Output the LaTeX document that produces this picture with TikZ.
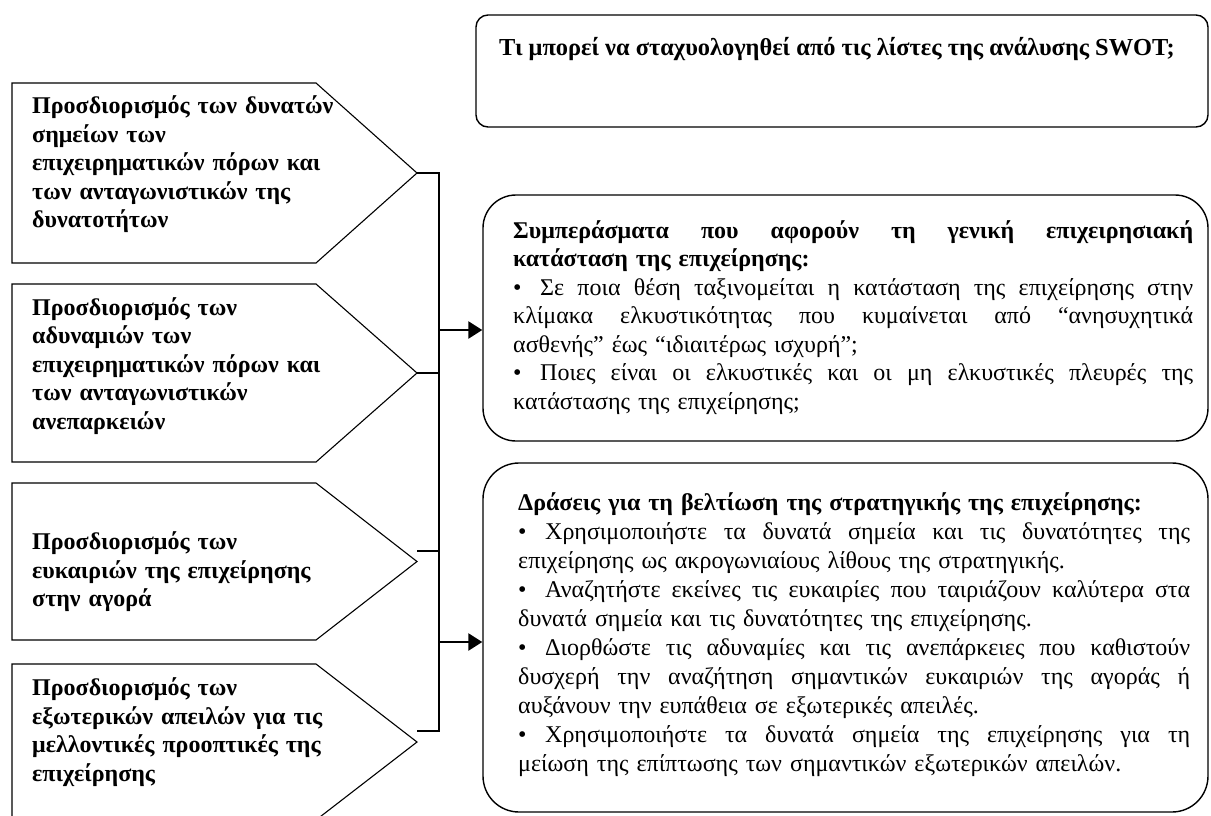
\documentclass[tikz,border=0pt]{standalone}
\usepackage{fontspec}
\setmainfont{Liberation Serif}
\usetikzlibrary{arrows.meta}
\newcommand{\jline}[2]{\leavevmode\hbox to #1{\spaceskip=0.25em plus 1fill\relax #2}}
\newcommand{\bul}{\makebox[27pt][l]{•}}
\begin{document}
\begin{tikzpicture}[x=1pt,y=-1pt,
  pent/.style={draw=black, line width=1.1pt, line join=miter},
  rbox/.style={draw=black, line width=1.4pt, inner sep=0pt, fill=none},
  conn/.style={draw=black, line width=1.3pt},
  arr/.style={draw=black, line width=2.6pt, -{Triangle[length=14pt,width=17pt]}},
  ltxt/.style={anchor=west, align=left, inner sep=0pt, text width=390pt,
    font=\fontsize{24}{28.5}\selectfont\bfseries},
  rtxt/.style={anchor=west, align=left, inner sep=0pt,
    font=\fontsize{24}{28.5}\selectfont},
  ]
\clip (0,0) rectangle (1211,815);
\fill[white] (0,0) rectangle (1211,815);

% left pentagons
\draw[pent] (12,83) -- (316,83) -- (417,173) -- (316,263) -- (12,263) -- cycle;
\draw[pent] (12,284) -- (316,284) -- (417,373) -- (316,462) -- (12,462) -- cycle;
\draw[pent] (12,483) -- (316,483) -- (417,561.5) -- (316,640) -- (12,640) -- cycle;
\draw[pent] (12,664) -- (316,664) -- (417,742) -- (316,820) -- (12,820) -- cycle;

\node[ltxt] (l1) at (32,165.2) {\strut Προσδιορισμός των δυνατών\\σημείων των\\επιχειρηματικών πόρων και\\των ανταγωνιστικών της\\δυνατοτήτων\strut};
\node[ltxt] (l2) at (32,366.4) {\strut Προσδιορισμός των\\αδυναμιών των\\επιχειρηματικών πόρων και\\των ανταγωνιστικών\\ανεπαρκειών\strut};
\node[ltxt] (l3) at (32,572.7) {\strut Προσδιορισμός των\\ευκαιριών της επιχείρησης\\στην αγορά\strut};
\node[ltxt] (l4) at (32,732.8) {\strut Προσδιορισμός των\\εξωτερικών απειλών για τις\\μελλοντικές προοπτικές της\\επιχείρησης\strut};

% right boxes
\node[rbox, minimum width=732pt, minimum height=112pt, rounded corners=12pt] (box1) at (842,71) {};
\node[rbox, minimum width=725pt, minimum height=246pt, rounded corners=33pt] (box2) at (845.5,318) {};
\node[rbox, minimum width=725pt, minimum height=349pt, rounded corners=36pt] (box3) at (845.5,637.5) {};

\node[rtxt, font=\fontsize{24.4}{28.5}\selectfont\bfseries] (title) at (499,50) {\strut Τι μπορεί να σταχυολογηθεί από τις λίστες της ανάλυσης SWOT;\strut};

\node[rtxt, text width=680pt] (txt2) at (513,318) {\strut\textbf{\jline{680pt}{Συμπεράσματα που αφορούν τη γενική επιχειρησιακή}}\\
\textbf{κατάσταση της επιχείρησης:}\\
\jline{680pt}{\bul Σε ποια θέση ταξινομείται η κατάσταση της επιχείρησης στην}\\
\jline{680pt}{κλίμακα ελκυστικότητας που κυμαίνεται από “ανησυχητικά}\\
ασθενής” έως “ιδιαιτέρως ισχυρή”;\\
\jline{680pt}{\bul Ποιες είναι οι ελκυστικές και οι μη ελκυστικές πλευρές της}\\
κατάστασης της επιχείρησης;\strut};

\node[rtxt, text width=672pt, font=\fontsize{24}{29}\selectfont] (txt3) at (518,635.5) {\strut\textbf{Δράσεις για τη βελτίωση της στρατηγικής της επιχείρησης:}\\
\jline{672pt}{\bul Χρησιμοποιήστε τα δυνατά σημεία και τις δυνατότητες της}\\
επιχείρησης ως ακρογωνιαίους λίθους της στρατηγικής.\\
\jline{672pt}{\bul Αναζητήστε εκείνες τις ευκαιρίες που ταιριάζουν καλύτερα στα}\\
δυνατά σημεία και τις δυνατότητες της επιχείρησης.\\
\jline{672pt}{\bul Διορθώστε τις αδυναμίες και τις ανεπάρκειες που καθιστούν}\\
\jline{672pt}{δυσχερή την αναζήτηση σημαντικών ευκαιριών της αγοράς ή}\\
αυξάνουν την ευπάθεια σε εξωτερικές απειλές.\\
\jline{672pt}{\bul Χρησιμοποιήστε τα δυνατά σημεία της επιχείρησης για τη}\\
μείωση της επίπτωσης των σημαντικών εξωτερικών απειλών.\strut};

% connectors
\coordinate (t1) at (417,173);
\coordinate (t2) at (417,373);
\coordinate (s3) at (417,551);
\coordinate (s4) at (417,731);
\coordinate (j1) at (439,173);
\coordinate (j2) at (439,373);
\coordinate (j3) at (439,551);
\coordinate (j4) at (439,731);
\coordinate (a2) at (439,330);
\coordinate (a3) at (439,642);

\draw[conn] (t1) -- (j1) -- (j4) -- (s4);
\draw[conn] (t2) -- (j2);
\draw[conn] (s3) -- (j3);
\draw[arr] (a2) -- (box2.west |- a2);
\draw[arr] (a3) -- (box3.west |- a3);
\end{tikzpicture}
\end{document}
